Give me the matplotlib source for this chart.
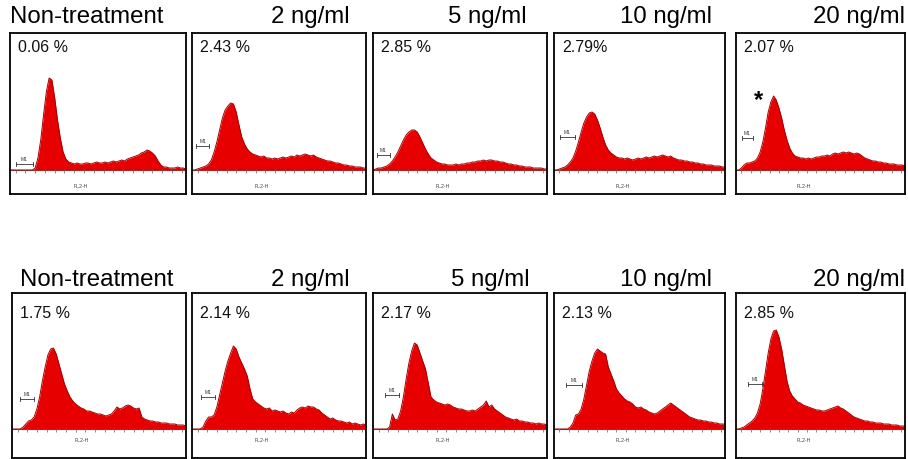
import numpy as np
import matplotlib.pyplot as plt

plt.rcParams['font.family'] = ['Liberation Sans', 'DejaVu Sans']

# panel titles and the percentage printed in each panel
titles = ['Non-treatment', '2 ng/ml', '5 ng/ml', '10 ng/ml', '20 ng/ml']
top_pct = ['0.06 %', '2.43 %', '2.85 %', '2.79%', '2.07 %']
bottom_pct = ['1.75 %', '2.14 %', '2.17 %', '2.13 %', '2.85 %']

# FL2-H histograms, 64 channels each (counts)
top_ctrl = [0, 0, 0, 0, 0, 0, 0, 0, 0, 2, 12, 30, 55, 78, 92, 90, 72, 50, 32, 18,
            11, 8, 7, 6, 7, 6, 6, 7, 7, 6, 7, 8, 7, 7, 8, 7, 8, 9, 8, 9,
            10, 9, 11, 12, 13, 14, 15, 17, 18, 20, 19, 17, 14, 9, 5, 3, 3, 2, 2, 2,
            3, 2, 2, 1]
top_2 = [0, 0, 1, 2, 3, 4, 6, 10, 18, 28, 40, 52, 60, 64, 67, 66, 58, 45, 33, 26,
         21, 18, 16, 15, 14, 13, 14, 12, 12, 11, 12, 11, 12, 13, 12, 13, 14, 13, 15, 14,
         15, 16, 15, 14, 15, 13, 12, 11, 10, 9, 9, 8, 7, 7, 6, 5, 5, 4, 4, 3,
         3, 3, 2, 2]
top_5 = [0, 1, 2, 2, 3, 4, 6, 9, 13, 18, 24, 30, 35, 38, 40, 40, 38, 33, 27, 21,
         16, 12, 10, 8, 7, 6, 6, 5, 5, 5, 6, 5, 6, 6, 7, 7, 8, 8, 9, 9,
         10, 9, 10, 10, 9, 9, 8, 8, 7, 6, 6, 5, 5, 4, 4, 3, 3, 3, 2, 2,
         2, 2, 1, 1]
top_10 = [0, 0, 1, 2, 3, 5, 8, 12, 19, 28, 38, 47, 53, 57, 58, 56, 50, 42, 33, 25,
          20, 17, 15, 13, 12, 12, 11, 12, 11, 10, 11, 12, 11, 12, 13, 12, 13, 14, 13, 14,
          15, 14, 13, 14, 12, 11, 10, 10, 9, 9, 8, 8, 7, 7, 6, 6, 5, 5, 5, 4,
          4, 4, 3, 3]
top_20 = [0, 0, 2, 5, 7, 7, 8, 9, 12, 18, 28, 42, 58, 68, 74, 70, 62, 52, 40, 30,
          22, 17, 14, 13, 12, 12, 11, 12, 11, 12, 13, 13, 14, 14, 15, 14, 16, 17, 16, 17,
          18, 17, 18, 17, 16, 17, 16, 14, 12, 11, 10, 9, 9, 8, 8, 7, 7, 6, 6, 6,
          5, 5, 5, 4]
bot_ctrl = [0, 0, 0, 0, 2, 5, 8, 9, 12, 20, 32, 48, 62, 74, 80, 81, 75, 65, 55, 45,
            38, 32, 28, 25, 23, 21, 20, 18, 18, 17, 16, 15, 15, 14, 13, 14, 15, 18, 22, 20,
            21, 23, 24, 23, 21, 20, 21, 12, 10, 9, 8, 8, 7, 7, 6, 6, 6, 5, 5, 5,
            4, 4, 4, 3]
bot_2 = [0, 0, 0, 0, 2, 8, 12, 12, 14, 22, 34, 46, 58, 68, 76, 83, 80, 72, 66, 60,
         53, 40, 30, 27, 25, 23, 21, 20, 21, 18, 19, 18, 17, 18, 16, 15, 17, 16, 19, 21,
         22, 21, 23, 22, 22, 20, 19, 16, 14, 12, 10, 11, 9, 8, 8, 7, 6, 7, 5, 6,
         5, 4, 5, 4]
bot_5 = [0, 0, 0, 0, 0, 0, 2, 15, 9, 10, 18, 32, 50, 66, 78, 86, 84, 76, 68, 60,
         46, 32, 29, 27, 26, 25, 24, 25, 24, 22, 21, 20, 20, 19, 18, 18, 19, 18, 20, 22,
         24, 28, 22, 24, 20, 18, 16, 14, 12, 11, 10, 9, 10, 8, 8, 7, 7, 6, 6, 5,
         6, 5, 5, 4]
bot_10 = [0, 0, 0, 0, 0, 0, 2, 6, 14, 15, 20, 30, 44, 58, 68, 76, 80, 78, 76, 75,
          62, 55, 48, 40, 36, 33, 30, 28, 27, 25, 22, 21, 22, 20, 19, 17, 16, 15, 16, 18,
          20, 22, 24, 26, 24, 22, 20, 18, 16, 14, 12, 11, 10, 9, 9, 8, 8, 7, 7, 6,
          6, 5, 5, 5]
bot_20 = [0, 0, 1, 2, 4, 6, 8, 11, 16, 25, 40, 58, 76, 90, 98, 99, 92, 80, 64, 48,
          38, 33, 30, 27, 26, 24, 23, 22, 21, 20, 19, 19, 18, 18, 19, 20, 21, 22, 23, 21,
          20, 18, 16, 14, 12, 11, 10, 9, 8, 8, 7, 7, 6, 6, 6, 5, 5, 5, 4, 4,
          4, 3, 3, 3]

top_hists = [top_ctrl, top_2, top_5, top_10, top_20]
bot_hists = [bot_ctrl, bot_2, bot_5, bot_10, bot_20]

W, H = 908, 459
fig = plt.figure(figsize=(W / 100, H / 100), dpi=100)

RED = '#e60000'
EDGE = '#a00000'

# layout in pixels
top_boxes = [(10, 186), (192, 366), (373, 547), (554, 725), (736, 905)]
bot_boxes = [(12, 186), (192, 366), (373, 547), (554, 725), (736, 905)]
rows = [
    dict(boxes=top_boxes, top=33, base=170, bottom=194, hists=top_hists, pct=top_pct,
         title_y=17, title_x=[10, 350, 527, 712, 905], pct_y=47, fl_y=187,
         m1=[(16, 33, 164), (196, 209, 146), (377, 390, 155), (560, 575, 137), (742, 753, 138)]),
    dict(boxes=bot_boxes, top=293, base=429, bottom=458, hists=bot_hists, pct=bottom_pct,
         title_y=280, title_x=[20, 350, 530, 712, 905], pct_y=313, fl_y=441,
         m1=[(20, 34, 399), (201, 215, 397), (385, 399, 395), (566, 582, 385), (748, 762, 384)]),
]

for row in rows:
    for j, (x0, x1) in enumerate(row['boxes']):
        y0, y1, base = row['top'], row['bottom'], row['base']
        ax = fig.add_axes([x0 / W, 1 - y1 / H, (x1 - x0) / W, (y1 - y0) / H])
        h = np.array(row['hists'][j], dtype=float)
        x = np.arange(len(h))
        n = len(h) - 1
        ax.set_xlim(0, n)
        ax.set_ylim(-(y1 - base), base - y0)
        ax.fill_between(x, 0, h, color=RED, lw=0)
        ax.plot(x, h, color=EDGE, lw=0.7)
        ax.axhline(0, color='#555555', lw=0.8, zorder=0)
        ax.vlines(np.arange(2, n, 3.5), -2.5, 0, color='#777777', lw=0.6)
        ax.set_xticks([])
        ax.set_yticks([])
        for s in ax.spines.values():
            s.set_linewidth(1.3)
            s.set_color('black')

        # M1 gate marker
        mx0, mx1, my = row['m1'][j]
        gx0 = (mx0 - x0) / (x1 - x0) * n
        gx1 = (mx1 - x0) / (x1 - x0) * n
        yy = base - my
        ax.plot([gx0, gx1], [yy, yy], color='#333333', lw=0.6)
        ax.plot([gx0, gx0], [yy - 2, yy + 2], color='#333333', lw=0.6)
        ax.plot([gx1, gx1], [yy - 2, yy + 2], color='#333333', lw=0.6)
        ax.text((gx0 + gx1) / 2, yy + 2, 'M1', fontsize=3.5,
                ha='center', va='bottom', color='#333333')

        ax.text(n * 0.40, base - row['fl_y'], 'FL2-H', fontsize=3.8,
                ha='center', va='center', color='#444444')

        fig.text((x0 + 8) / W, 1 - row['pct_y'] / H, row['pct'][j], fontsize=11.5,
                 ha='left', va='center', color='#111111')

        fig.text(row['title_x'][j] / W, 1 - row['title_y'] / H, titles[j],
                 fontsize=17.3, ha='left' if j == 0 else 'right', va='center')

# significance mark on the 20 ng/ml top panel
fig.text(758 / W, 1 - 101 / H, '*', fontsize=17, fontweight='bold', ha='center', va='center')

fig.savefig('out.png', dpi=100)
